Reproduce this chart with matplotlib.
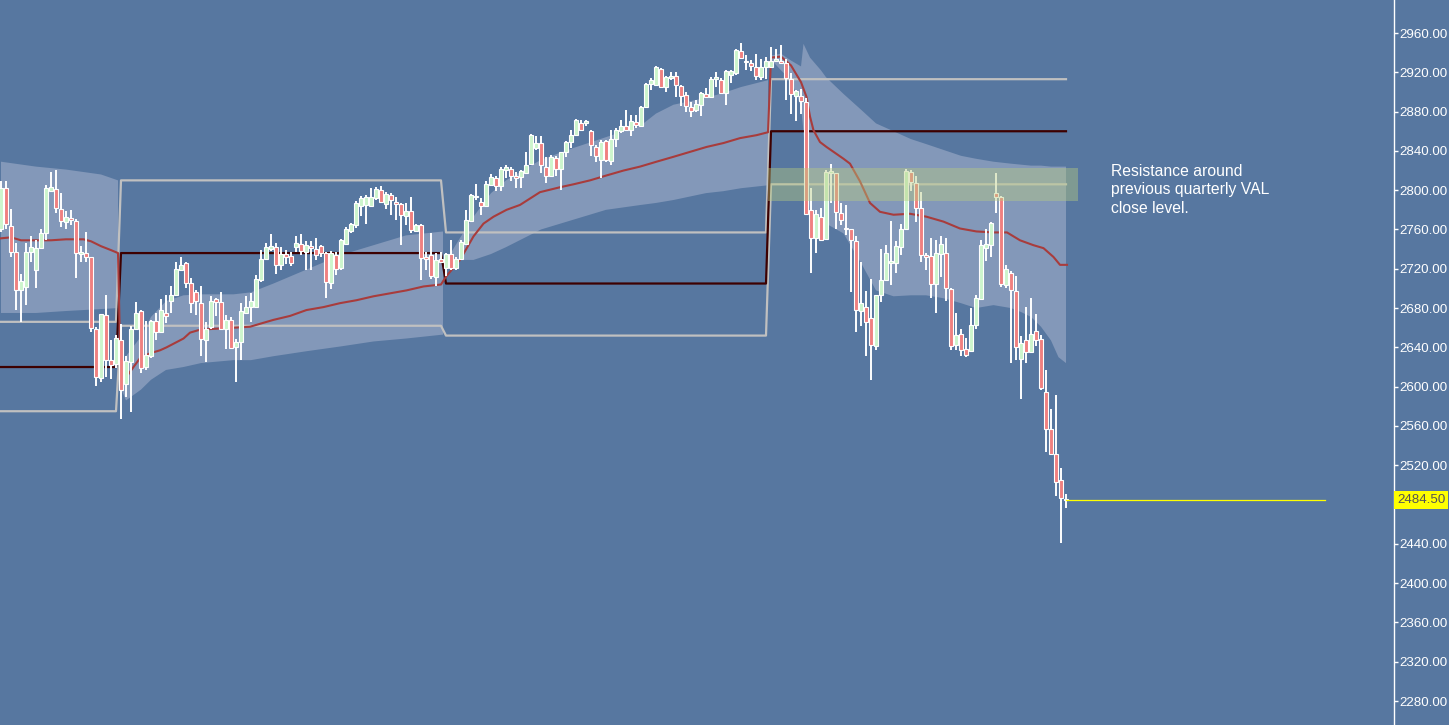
import numpy as np
import matplotlib.pyplot as plt
from matplotlib.patches import Rectangle
import matplotlib.transforms as mtransforms

plt.rcParams['font.family'] = ['Liberation Sans', 'DejaVu Sans']

# daily bars
opens = [2761, 2802, 2764, 2737, 2698, 2701, 2737, 2719, 2741, 2756,
         2799, 2801, 2781, 2768, 2771, 2769, 2735, 2736, 2732, 2659,
         2609, 2673, 2627, 2623, 2648, 2603, 2625, 2659, 2677, 2620,
         2631, 2667, 2656, 2675, 2687, 2693, 2719, 2726, 2706, 2696,
         2685, 2648, 2661, 2689, 2686, 2659, 2668, 2640, 2645, 2675,
         2681, 2681, 2709, 2730, 2740, 2742, 2724, 2735, 2733, 2742,
         2745, 2737, 2743, 2740, 2743, 2736, 2706, 2734, 2721, 2745,
         2758, 2765, 2784, 2785, 2784, 2792, 2800, 2786, 2795, 2788,
         2786, 2774, 2779, 2758, 2765, 2732, 2734, 2712, 2730, 2721,
         2735, 2721, 2730, 2745, 2769, 2793, 2788, 2784, 2805, 2812,
         2804, 2821, 2822, 2814, 2813, 2818, 2827, 2843, 2848, 2824,
         2814, 2833, 2822, 2839, 2849, 2856, 2868, 2868, 2860, 2844,
         2831, 2850, 2830, 2852, 2860, 2865, 2861, 2869, 2865, 2885,
         2908, 2907, 2923, 2905, 2914, 2916, 2906, 2897, 2885, 2882,
         2887, 2898, 2895, 2913, 2912, 2899, 2917, 2919, 2942, 2932,
         2929, 2925, 2915, 2925, 2925, 2932, 2932, 2929, 2913, 2896,
         2896, 2890, 2780, 2751, 2773, 2750, 2818, 2817, 2777, 2761,
         2760, 2748, 2677, 2681, 2670, 2641, 2693, 2709, 2726, 2726,
         2742, 2760, 2819, 2807, 2782, 2734, 2733, 2705, 2735, 2736,
         2699, 2642, 2654, 2638, 2636, 2663, 2689, 2741, 2744, 2797,
         2793, 2703, 2716, 2697, 2628, 2648, 2635, 2657, 2649, 2595,
         2557, 2531, 2505, 2486]
highs = [2809, 2809, 2781, 2746, 2715, 2746, 2753, 2749, 2760, 2805,
         2819, 2821, 2797, 2779, 2780, 2771, 2743, 2757, 2732, 2661,
         2674, 2693, 2647, 2653, 2664, 2631, 2662, 2686, 2678, 2667,
         2668, 2675, 2689, 2693, 2702, 2727, 2732, 2727, 2711, 2698,
         2702, 2666, 2692, 2690, 2696, 2673, 2671, 2649, 2685, 2692,
         2695, 2714, 2739, 2746, 2755, 2746, 2742, 2739, 2737, 2753,
         2755, 2748, 2748, 2751, 2744, 2737, 2738, 2737, 2750, 2763,
         2767, 2789, 2794, 2795, 2802, 2803, 2804, 2798, 2797, 2793,
         2787, 2787, 2793, 2766, 2766, 2737, 2756, 2736, 2737, 2736,
         2749, 2732, 2749, 2780, 2796, 2806, 2792, 2809, 2816, 2814,
         2824, 2826, 2824, 2819, 2821, 2839, 2857, 2855, 2855, 2834,
         2836, 2835, 2839, 2850, 2861, 2872, 2871, 2871, 2861, 2846,
         2851, 2851, 2861, 2863, 2871, 2882, 2877, 2877, 2886, 2909,
         2914, 2926, 2924, 2916, 2920, 2920, 2907, 2900, 2890, 2892,
         2900, 2904, 2915, 2920, 2914, 2922, 2922, 2944, 2950, 2938,
         2933, 2939, 2934, 2936, 2946, 2944, 2948, 2934, 2919, 2902,
         2903, 2894, 2802, 2780, 2782, 2821, 2827, 2818, 2787, 2785,
         2760, 2753, 2727, 2697, 2710, 2693, 2740, 2744, 2769, 2748,
         2766, 2822, 2821, 2814, 2798, 2736, 2751, 2749, 2753, 2751,
         2700, 2675, 2659, 2650, 2680, 2693, 2749, 2760, 2768, 2818,
         2794, 2724, 2718, 2713, 2652, 2681, 2690, 2674, 2653, 2617,
         2577, 2592, 2517, 2491]
lows = [2757, 2761, 2732, 2678, 2666, 2683, 2727, 2700, 2740, 2749,
        2798, 2777, 2763, 2760, 2765, 2711, 2727, 2727, 2656, 2601,
        2605, 2610, 2608, 2619, 2567, 2589, 2574, 2658, 2614, 2617,
        2629, 2648, 2655, 2665, 2675, 2692, 2718, 2700, 2675, 2673,
        2631, 2625, 2659, 2672, 2658, 2638, 2639, 2605, 2627, 2675,
        2666, 2680, 2707, 2729, 2738, 2715, 2719, 2725, 2723, 2737,
        2734, 2719, 2719, 2729, 2732, 2690, 2699, 2714, 2719, 2744,
        2756, 2762, 2774, 2766, 2783, 2790, 2787, 2781, 2775, 2770,
        2744, 2765, 2756, 2757, 2709, 2719, 2710, 2702, 2726, 2713,
        2719, 2719, 2729, 2744, 2768, 2790, 2775, 2783, 2804, 2799,
        2799, 2812, 2809, 2802, 2802, 2818, 2826, 2841, 2817, 2807,
        2813, 2814, 2800, 2834, 2843, 2855, 2860, 2865, 2835, 2829,
        2812, 2829, 2826, 2844, 2858, 2860, 2855, 2863, 2865, 2884,
        2902, 2906, 2905, 2900, 2912, 2895, 2886, 2880, 2875, 2880,
        2876, 2894, 2894, 2905, 2898, 2887, 2909, 2917, 2934, 2922,
        2921, 2912, 2912, 2913, 2924, 2931, 2929, 2892, 2878, 2870,
        2878, 2776, 2716, 2736, 2749, 2750, 2787, 2760, 2765, 2754,
        2696, 2656, 2662, 2631, 2607, 2637, 2686, 2709, 2703, 2716,
        2734, 2759, 2799, 2768, 2727, 2719, 2690, 2675, 2712, 2687,
        2637, 2637, 2631, 2630, 2635, 2659, 2688, 2728, 2732, 2777,
        2701, 2700, 2624, 2627, 2587, 2624, 2634, 2641, 2597, 2534,
        2530, 2489, 2441, 2476]
closes = [2802, 2766, 2737, 2698, 2708, 2737, 2742, 2741, 2756, 2802,
          2803, 2782, 2769, 2773, 2770, 2736, 2737, 2732, 2660, 2610,
          2674, 2627, 2622, 2650, 2597, 2626, 2659, 2675, 2619, 2632,
          2667, 2656, 2678, 2672, 2693, 2720, 2724, 2706, 2685, 2687,
          2649, 2659, 2687, 2686, 2659, 2668, 2639, 2645, 2677, 2681,
          2687, 2710, 2730, 2742, 2743, 2724, 2735, 2732, 2726, 2746,
          2738, 2744, 2741, 2734, 2736, 2707, 2736, 2720, 2749, 2760,
          2766, 2787, 2792, 2793, 2793, 2801, 2788, 2796, 2790, 2786,
          2775, 2779, 2759, 2765, 2731, 2730, 2713, 2729, 2727, 2735,
          2721, 2730, 2747, 2770, 2795, 2794, 2784, 2806, 2813, 2804,
          2822, 2824, 2814, 2812, 2820, 2826, 2856, 2848, 2826, 2814,
          2834, 2822, 2839, 2849, 2856, 2871, 2861, 2870, 2846, 2835,
          2849, 2831, 2852, 2861, 2865, 2861, 2870, 2866, 2885, 2908,
          2912, 2925, 2905, 2915, 2916, 2907, 2896, 2886, 2881, 2888,
          2899, 2895, 2913, 2915, 2899, 2921, 2921, 2943, 2935, 2930,
          2926, 2916, 2925, 2932, 2932, 2933, 2929, 2914, 2898, 2901,
          2891, 2776, 2751, 2776, 2749, 2819, 2819, 2778, 2770, 2760,
          2749, 2678, 2685, 2666, 2642, 2693, 2709, 2736, 2726, 2743,
          2761, 2820, 2808, 2782, 2734, 2732, 2705, 2736, 2745, 2700,
          2641, 2653, 2637, 2632, 2663, 2690, 2744, 2745, 2767, 2793,
          2705, 2720, 2698, 2640, 2644, 2635, 2654, 2648, 2599, 2557,
          2531, 2503, 2487, 2484.5]

# quarterly value area levels (previous quarter profile)
quarter_start = [0, 24, 89, 154]
vah = [2666, 2810, 2757, 2913]
poc = [2620, 2736, 2705, 2860]
val = [2575, 2662, 2652, 2806]

# anchored vwap and its band, sampled along the chart
vwap_idx = [0, 2, 4, 10, 13, 16.5, 18, 20, 22, 23.4,
            24, 25.1, 26.5, 27.8, 29.8, 31.8, 33.1, 36.5, 37.8, 39.8,
            43.1, 46.5, 49.8, 51.8, 54.5, 57.8, 61.1, 64.5, 67.8, 71.1,
            74.5, 77.8, 81.1, 84.5, 88,
            89, 91.8, 94.5, 96.5, 98.5, 101.1, 103.8, 107.8, 111.8, 114.5,
            117.8, 121.1, 124.5, 127.8, 131.1, 134.5, 137.8, 141.1, 144.5,
            147.8, 151.1, 153.4,
            154, 156, 158, 160, 161.1, 161.8, 162.5, 163.8, 165.1, 168.5,
            169.8, 171.8, 173.8, 175.8, 178.5, 181.8, 185.1, 188.5, 191.8,
            195.1, 198.5, 201.2, 203.8, 206.5, 208.5, 210.5, 211.8, 213.2]
vwap_val = [2751, 2752, 2749, 2749, 2750, 2750, 2748, 2743, 2739, 2736,
            2598, 2610, 2620, 2629, 2634, 2637, 2640, 2649, 2655, 2658,
            2659, 2660, 2661, 2664, 2668, 2672, 2678, 2681, 2685, 2688,
            2692, 2695, 2698, 2702, 2704,
            2712, 2729, 2753, 2766, 2773, 2780, 2785, 2798, 2803, 2806,
            2810, 2815, 2820, 2824, 2829, 2834, 2839, 2844, 2848,
            2853, 2856, 2859,
            2935, 2936, 2927, 2910, 2895, 2875, 2861, 2849, 2844, 2832,
            2827, 2809, 2787, 2778, 2775, 2776, 2773, 2768, 2761,
            2758, 2757, 2757, 2749, 2744, 2741, 2732, 2724, 2724]

nan = np.nan
band_idx = [0, 7, 13, 20, 23.4, nan,
            24, 25, 28, 30, 33, 36.5, 40, 46.5, 50, 54.5, 61, 68, 74.5, 81, 88.4, nan,
            89, 92, 94.5, 98, 101, 108, 114.5, 121, 128, 131, 134.5, 141, 144.5, 148, 153.4, nan,
            154, 156, 158, 160, 160.5, 161.8, 164, 165, 168.5, 172, 175, 178.5, 182,
            185, 188.5, 192, 195, 198.5, 202, 204, 206, 208, 210, 211.5, 213]
band_hi = [2829, 2824, 2821, 2816, 2810, nan,
           2600, 2631, 2651, 2671, 2687, 2693, 2694, 2694, 2696, 2705, 2719, 2734, 2744, 2754, 2758, nan,
           2728, 2753, 2773, 2797, 2810, 2831, 2843, 2854, 2866, 2878, 2887, 2894, 2899, 2905, 2912, nan,
           2937, 2939, 2932, 2926, 2949, 2935, 2922, 2915, 2898, 2882, 2868, 2860, 2852,
           2847, 2841, 2835, 2832, 2829, 2827, 2826, 2825, 2825, 2824, 2824, 2824]
band_lo = [2675, 2675, 2677, 2679, 2680, nan,
           2598, 2586, 2597, 2607, 2617, 2620, 2624, 2627, 2627, 2631, 2636, 2641, 2646, 2649, 2653, nan,
           2724, 2729, 2729, 2735, 2742, 2760, 2770, 2780, 2785, 2787, 2790, 2797, 2799, 2802, 2805, nan,
           2933, 2922, 2912, 2885, 2860, 2773, 2766, 2766, 2756, 2726, 2698, 2692, 2693,
           2693, 2690, 2685, 2680, 2683, 2680, 2676, 2671, 2661, 2647, 2630, 2624]

zone_lo, zone_hi = 2789, 2822.6
last_price = 2484.5
y_ticks = np.arange(2280, 2961, 40)

BG = '#5777a0'
BAND = '#8398b9'
UP = '#ccf5cc'
DOWN = '#f08080'

fig = plt.figure(figsize=(14.49, 7.25), dpi=100, facecolor=BG)
ax = fig.add_axes([0, 0, 1394 / 1449, 1], facecolor=BG)

n = len(closes)
x = np.arange(n)
o = np.array(opens, dtype=float)
c = np.array(closes, dtype=float)

# vwap band
ax.fill_between(band_idx, band_lo, band_hi, color=BAND, lw=0, zorder=1)

# quarterly levels
lengths = np.diff(quarter_start + [n])
for lev, col in [(vah, '#c0c0c0'), (val, '#c0c0c0'), (poc, '#3d0000')]:
    ax.plot(x, np.repeat(lev, lengths), color=col, lw=1.6, zorder=2)

ax.plot(vwap_idx, vwap_val, color='#a83c3c', lw=1.5, zorder=3)

# candles
ax.vlines(x, lows, highs, color='white', lw=1.4, zorder=4)
body_col = [UP if cc >= oo else DOWN for oo, cc in zip(o, c)]
ax.bar(x, np.maximum(np.abs(c - o), 1.5), bottom=np.minimum(o, c), width=0.68,
       color=body_col, edgecolor='white', linewidth=0.8, zorder=5)

# resistance zone
ax.add_patch(Rectangle((153.4, zone_lo), 62, zone_hi - zone_lo,
                       facecolor=(0.72, 0.80, 0.50), alpha=0.42, lw=0, zorder=10))
ax.text(222, 2827, 'Resistance around\nprevious quarterly VAL\nclose level.',
        color='white', fontsize=11.3, va='top', ha='left', linespacing=1.3, zorder=11)

# last price
ax.plot([n - 1, 264.8], [last_price, last_price], color='#ffff00', lw=0.9, zorder=6)
trans = mtransforms.blended_transform_factory(fig.transFigure, ax.transData)
ax.text(1397 / 1449, last_price, f'{last_price:.2f}', transform=trans,
        ha='left', va='center', fontsize=9.6, color='#555555', zorder=12,
        bbox=dict(facecolor='#ffff00', edgecolor='none', pad=2.0), clip_on=False)

ax.set_xlim(-0.2, 278.6)
ax.set_ylim(2255.6, 2993.6)
ax.set_xticks([])
ax.yaxis.tick_right()
ax.set_yticks(y_ticks)
ax.set_yticklabels([f'{v:.2f}' for v in y_ticks])
ax.tick_params(axis='y', colors='white', length=3, width=1, pad=0.8, labelsize=9.6)
for s in ['top', 'left', 'bottom']:
    ax.spines[s].set_visible(False)
ax.spines['right'].set_color('white')
ax.spines['right'].set_linewidth(1)

fig.savefig('out.png', dpi=100, facecolor=BG)
